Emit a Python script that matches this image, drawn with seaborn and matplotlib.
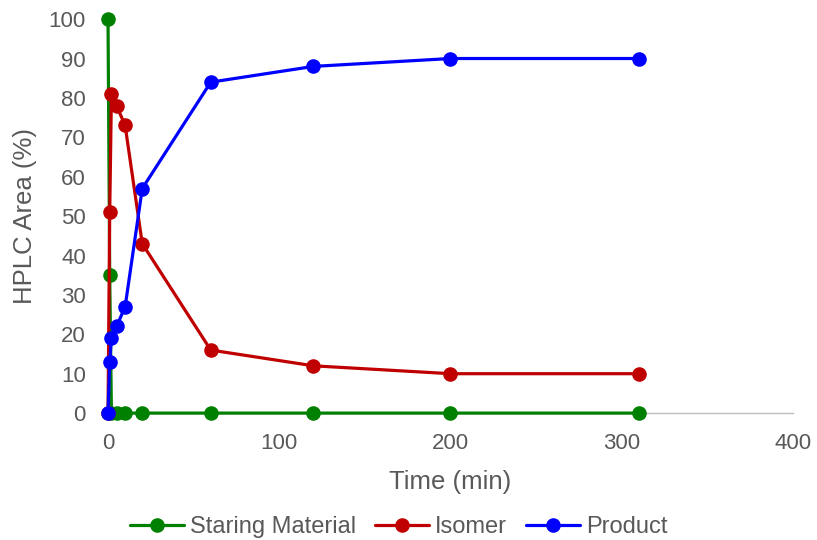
import matplotlib
matplotlib.use("Agg")
import matplotlib.pyplot as plt
import seaborn as sns
import pandas as pd

## reaction profile data
time_min = [0, 1, 2, 5, 10, 20, 60, 120, 200, 310]
starting_material = [100, 35, 0, 0, 0, 0, 0, 0, 0, 0]
isomer = [0, 51, 81, 78, 73, 43, 16, 12, 10, 10]
product = [0, 13, 19, 22, 27, 57, 84, 88, 90, 90]

series_names = ["Staring Material", "Isomer", "Product"]
series_colors = ["#008000", "#C00000", "#0000FF"]

df = pd.DataFrame({
    "Time": time_min * 3,
    "Area": starting_material + isomer + product,
    "Series": [series_names[0]] * len(time_min)
    + [series_names[1]] * len(time_min)
    + [series_names[2]] * len(time_min),
})

sns.set_style("white")
plt.rcParams["font.family"] = ["Liberation Sans", "DejaVu Sans"]
grey = "#595959"

fig = plt.figure(figsize=(8.17, 5.4), dpi=100)
ax = fig.add_axes([0.1322, 0.235, 0.8384, 0.7296])

for name, color in zip(series_names, series_colors):
    sub = df[df["Series"] == name]
    sns.lineplot(data=sub, x="Time", y="Area", color=color, marker="o",
                 markersize=10.5, markeredgewidth=0, linewidth=2.3,
                 sort=False, label=name, ax=ax, clip_on=False)

ax.set_xlim(0, 400)
ax.set_ylim(0, 100)
ax.set_xticks([0, 100, 200, 300, 400])
ax.set_yticks(range(0, 101, 10))
ax.tick_params(axis="y", length=0, labelsize=16, labelcolor=grey, pad=16)
ax.tick_params(axis="x", length=0, labelsize=16, labelcolor=grey, pad=14)
ax.set_xlabel("Time (min)", fontsize=18.5, color=grey, labelpad=12)
ax.set_ylabel("HPLC Area (%)", fontsize=18.5, color=grey, labelpad=8)

for side in ["top", "right", "left"]:
    ax.spines[side].set_visible(False)
ax.spines["bottom"].set_color("#BFBFBF")
ax.spines["bottom"].set_linewidth(1)
ax.spines["bottom"].set_zorder(0)

ax.get_legend().remove()
handles, labels = ax.get_legend_handles_labels()
fig.legend(handles, labels, loc="center", bbox_to_anchor=(0.488, 0.024),
           ncol=3, frameon=False, fontsize=17, labelcolor=grey,
           handlelength=2.3, handletextpad=0.25, columnspacing=0.8)

fig.savefig("out.png", dpi=100)
